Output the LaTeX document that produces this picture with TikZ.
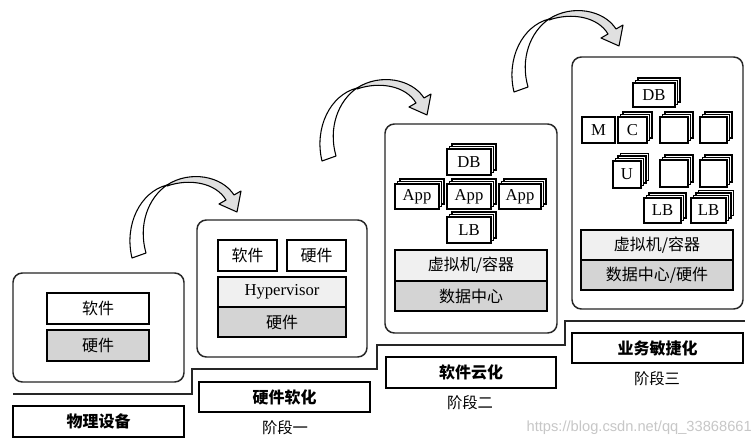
\documentclass[tikz,border=0pt]{standalone}
\usepackage{fontspec}
\setmainfont{Liberation Serif}
\newfontfamily\cjk{Noto Sans CJK SC}
\newfontfamily\wmfont{Liberation Sans}
\tikzset{
 base/.style={draw=black, line width=1.1pt, inner sep=0pt, font=\fontsize{12.5}{14}\selectfont},
 white box/.style={base, fill=white},
 light box/.style={base, fill=black!6},
 dark box/.style={base, fill=black!17},
 stage/.style={draw=black!85, line width=1.1pt, rounded corners=7pt, fill=white, inner sep=0pt},
 label box/.style={base, fill=white, font=\cjk\bfseries\fontsize{12}{14}\selectfont},
 phase/.style={font=\cjk\fontsize{11.5}{13}\selectfont, inner sep=0pt},
 cjktext/.style={font=\cjk\fontsize{12}{14}\selectfont},
 stair/.style={line width=1.1pt, draw=black!85},
 arrback/.style={fill=white, draw=black, line width=0.8pt, line join=round},
 arrfront/.style={fill=black!12, draw=black, line width=0.8pt, line join=round},
 bendarrow/.pic={
  \draw[arrback] (132,258) .. controls (124,225) and (140,192) .. (167,185)
       .. controls (148,198) and (138,225) .. (146,253) -- cycle;
  \draw[arrfront] (167,185) .. controls (190,170) and (222,176) .. (234,195)
       -- (241,191) -- (237,212) -- (219,204) -- (226,200)
       .. controls (216,183) and (190,178) .. (167,186) -- cycle;
 }
}
\newcommand\mybox[7]{\node[#6, minimum width={(#4-#2)*0.75pt}, minimum height={(#5-#3)*0.75pt}] (#1) at ({(#2+#4)/2},{(#3+#5)/2}) {#7};}
\newcommand\mylayers[5]{\foreach \k in {#5,...,1}{\draw[line width=1.1pt, fill=white] ({#1+2.5*\k},{#2-2.5*\k}) rectangle ({#3+2.5*\k},{#4-2.5*\k});}}
\begin{document}
\begin{tikzpicture}[x=0.75pt,y=-0.75pt]
\fill[white] (0,0) rectangle (755,446);
\useasboundingbox (0,0) rectangle (755,446);

% staircase
\coordinate (st0) at (13,394);
\coordinate (st1) at (192,394);
\coordinate (st2) at (192,369);
\coordinate (st3) at (377,369);
\coordinate (st4) at (377,345);
\coordinate (st5) at (565,345);
\coordinate (st6) at (565,321);
\coordinate (st7) at (745,321);
\draw[stair] (st0) -- (st1) -- (st2) -- (st3) -- (st4) -- (st5) -- (st6) -- (st7);

% arrows
\pic at (0,0) {bendarrow};
\pic at (190,-97) {bendarrow};
\pic at (382,-166) {bendarrow};

% stage 0
\mybox{s0}{13}{273}{184}{382}{stage}{}
\mybox{s0sw}{47}{293}{149}{324}{white box, cjktext}{软件}
\mybox{s0hw}{47}{330}{149}{361}{dark box, cjktext}{硬件}
\mybox{l0}{13}{406}{184}{437}{label box}{物理设备}

% stage 1
\mybox{s1}{197}{220}{367}{357}{stage}{}
\mybox{s1sw}{218}{240}{277}{271}{white box, cjktext}{软件}
\mybox{s1hw}{287}{240}{346}{271}{white box, cjktext}{硬件}
\mybox{s1hv}{218}{277}{346}{307}{light box}{Hypervisor}
\mybox{s1hd}{218}{307}{346}{337}{dark box, cjktext}{硬件}
\mybox{l1}{199}{382}{370}{412}{label box}{硬件软化}
\node[phase] (p1) at (285,428) {阶段一};

% stage 2
\mybox{s2}{385}{124}{557}{333}{stage}{}
\mylayers{447}{149}{491}{175}{2}
\mybox{s2db}{447}{149}{491}{175}{white box}{DB}
\mylayers{395}{184}{439}{209}{2}
\mybox{s2a1}{395}{184}{439}{209}{white box}{App}
\mylayers{447}{184}{491}{209}{2}
\mybox{s2a2}{447}{184}{491}{209}{white box}{App}
\mylayers{499}{184}{541}{209}{2}
\mybox{s2a3}{499}{184}{541}{209}{white box}{App}
\mylayers{447}{217}{491}{243}{2}
\mybox{s2lb}{447}{217}{491}{243}{white box}{LB}
\mybox{s2vm}{395}{250}{547}{281}{light box, cjktext}{虚拟机/容器}
\mybox{s2dc}{395}{281}{547}{311}{dark box, cjktext}{数据中心}
\mybox{l2}{386}{357}{556}{388}{label box}{软件云化}
\node[phase] (p2) at (470,403) {阶段二};

% stage 3
\mybox{s3}{572}{57}{743}{309}{stage}{}
\mylayers{633}{83}{675}{107}{2}
\mybox{s3db}{633}{83}{675}{107}{white box}{DB}
\mybox{s3m}{582}{117}{615}{143}{white box}{M}
\mylayers{618}{117}{647}{143}{2}
\mybox{s3c}{618}{117}{647}{143}{white box}{C}
\mylayers{660}{117}{688}{143}{2}
\mybox{s3e1}{660}{117}{688}{143}{white box}{}
\mylayers{700}{117}{727}{143}{2}
\mybox{s3e2}{700}{117}{727}{143}{white box}{}
\mylayers{613}{161}{641}{188}{3}
\mybox{s3u}{613}{161}{641}{188}{white box}{U}
\mylayers{660}{160}{688}{187}{2}
\mybox{s3e3}{660}{160}{688}{187}{white box}{}
\mylayers{700}{160}{727}{187}{2}
\mybox{s3e4}{700}{160}{727}{187}{white box}{}
\mylayers{644}{198}{681}{223}{2}
\mybox{s3lb1}{644}{198}{681}{223}{white box}{LB}
\mylayers{691}{198}{726}{223}{3}
\mybox{s3lb2}{691}{198}{726}{223}{white box}{LB}
\mybox{s3vm}{581}{230}{733}{260}{light box, cjktext}{虚拟机/容器}
\mybox{s3dc}{581}{260}{733}{290}{dark box, cjktext}{数据中心/硬件}
\mybox{l3}{572}{333}{743}{363}{label box}{业务敏捷化}
\node[phase] (p3) at (657,379) {阶段三};

% watermark
\node[anchor=east, inner sep=0pt, text=black!22, font=\wmfont\fontsize{11}{13}\selectfont] (wm) at (752,428) {https://blog.csdn.net/qq\_33868661};
\end{tikzpicture}
\end{document}
